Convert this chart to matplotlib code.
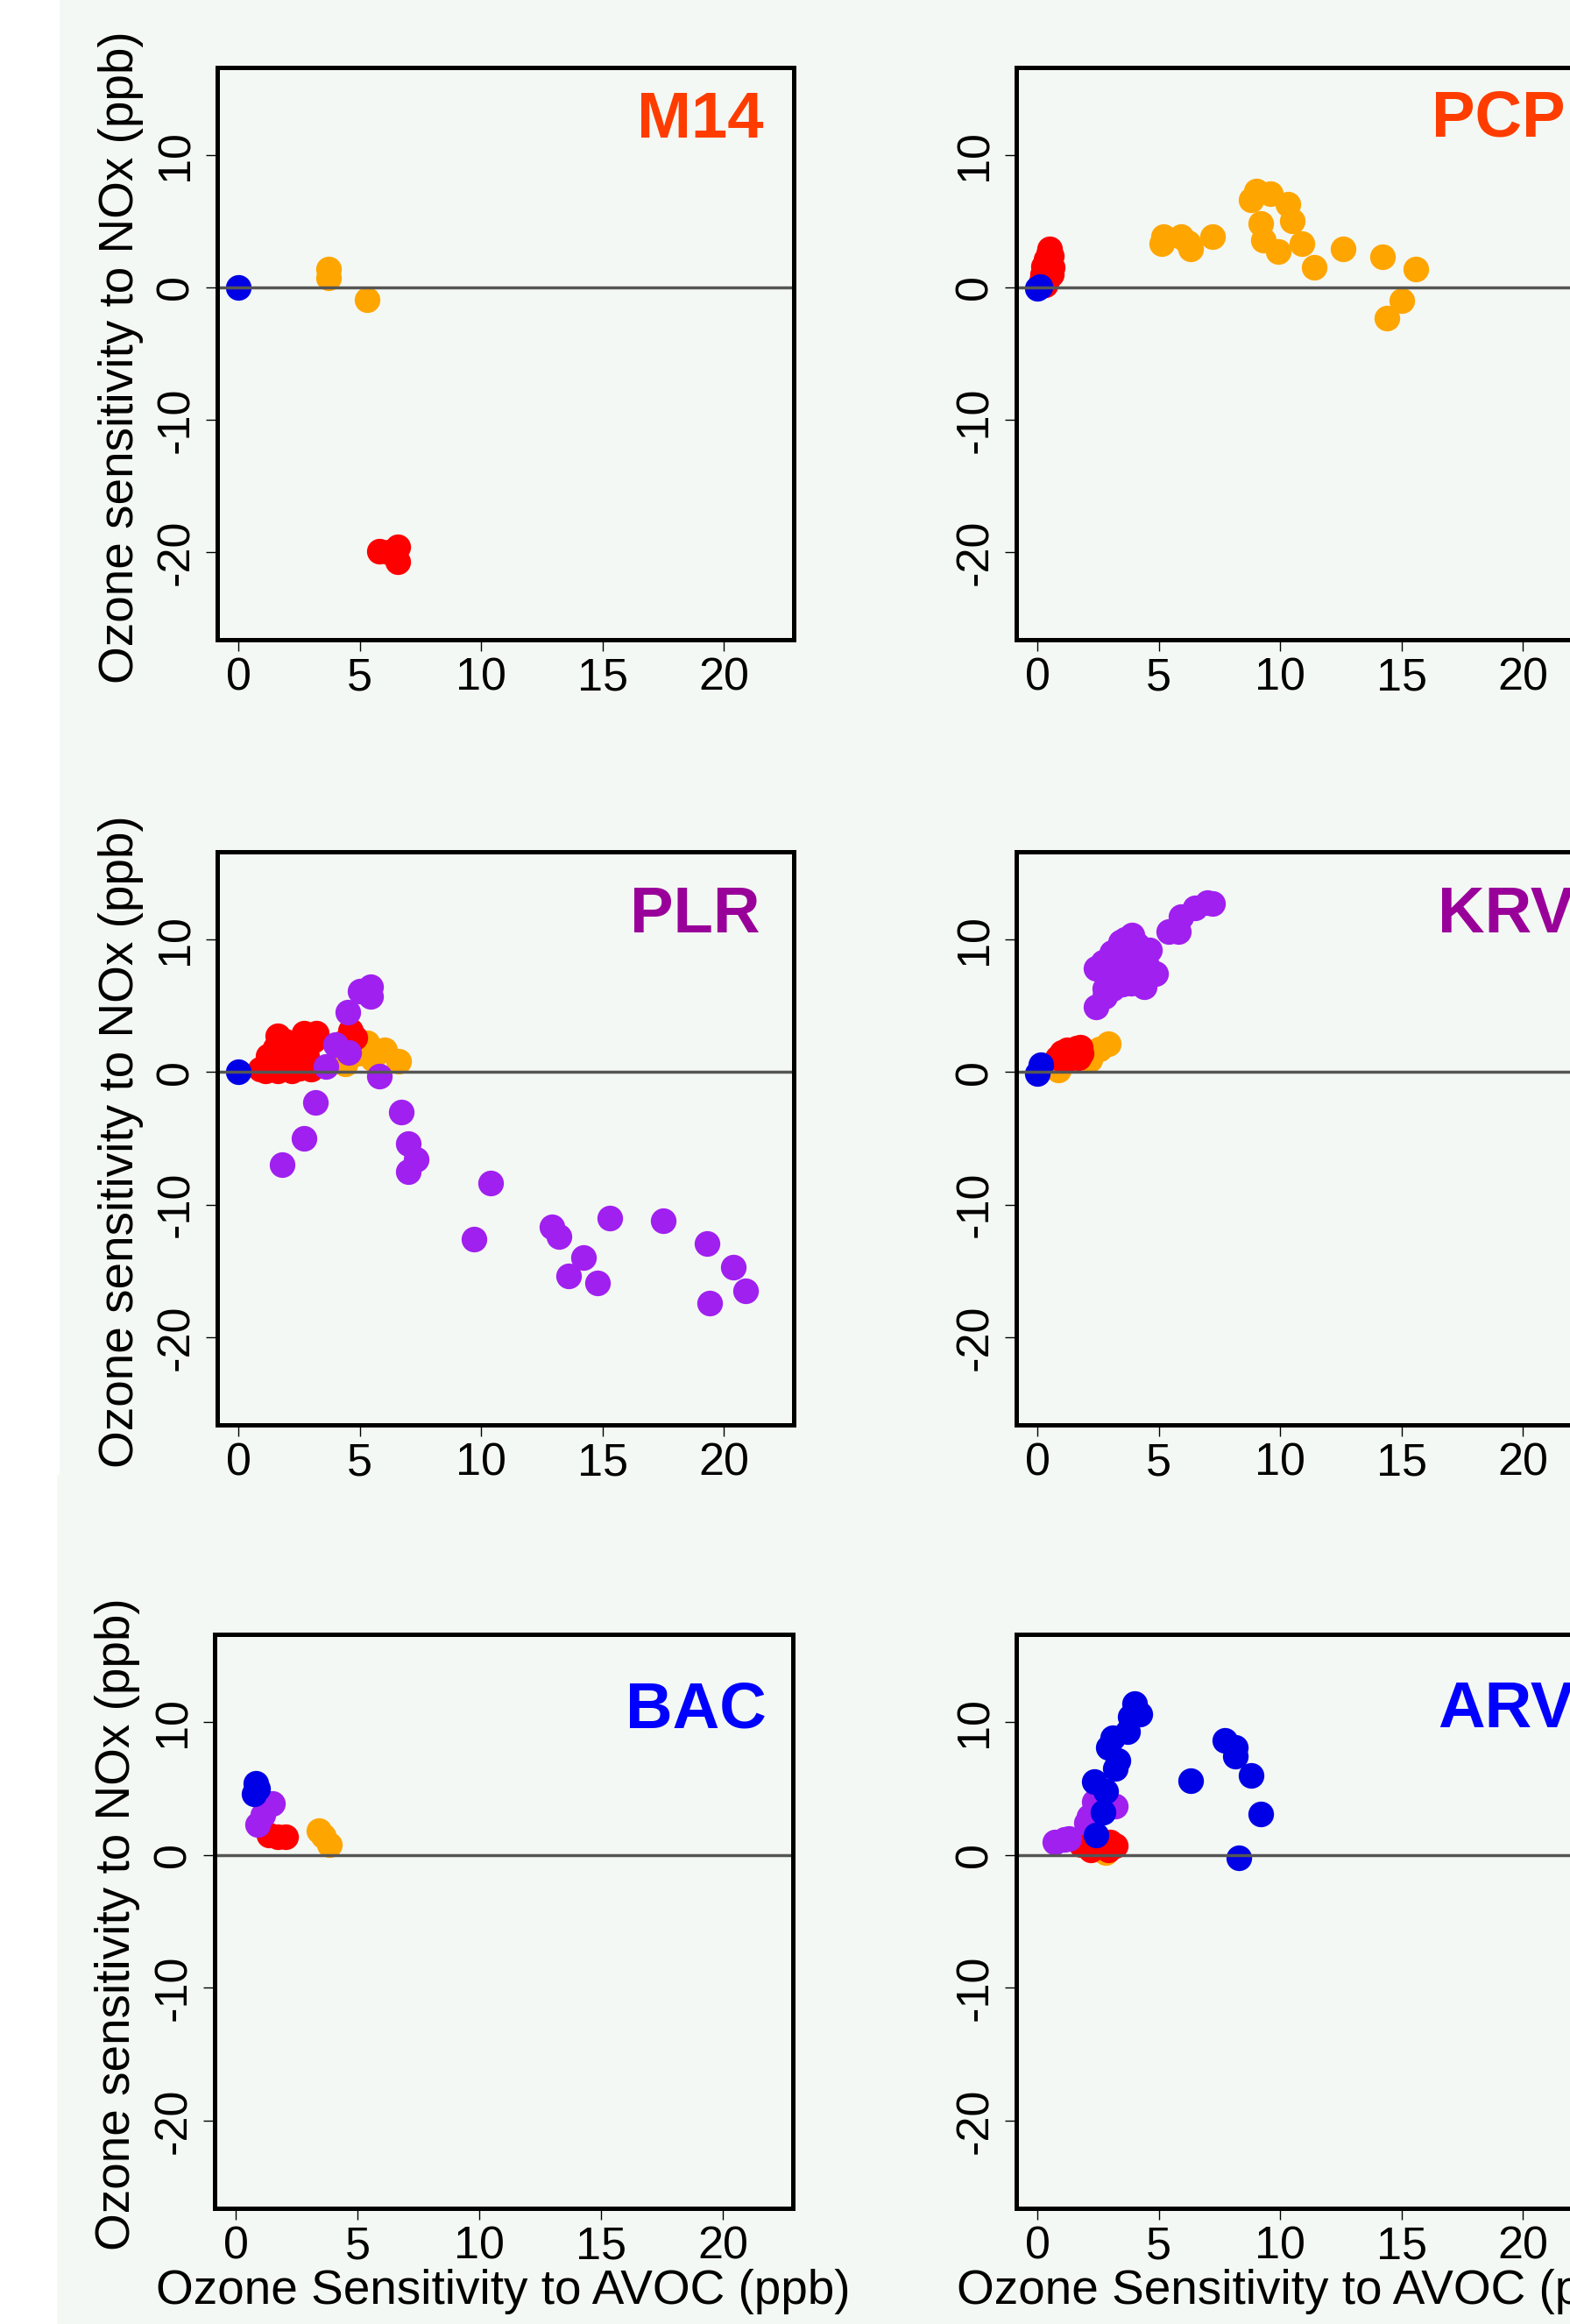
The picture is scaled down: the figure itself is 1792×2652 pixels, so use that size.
import matplotlib
matplotlib.use("Agg")
import matplotlib.pyplot as plt
from matplotlib.patches import Rectangle

plt.rcParams['font.family'] = ['Liberation Sans', 'DejaVu Sans']

# ---------------- data ----------------
panel_names = ["M14", "PCP", "PLR", "KRV", "BAC", "ARV"]
panel_title_colors = ["#ff3c00", "#ff3c00", "#990099", "#990099", "#0000ff", "#0000ff"]

x_ticks = [0, 5, 10, 15, 20]
y_ticks = [-20, -10, 0, 10]

# M14
m14_orange_x = [3.7, 3.7, 5.3]
m14_orange_y = [1.4, 0.7, -0.9]
m14_red_x = [5.8, 6.2, 6.55, 6.55]
m14_red_y = [-19.9, -20.0, -19.6, -20.7]
m14_purple_x = []
m14_purple_y = []
m14_blue_x = [0.0]
m14_blue_y = [0.0]

# PCP
pcp_orange_x = [5.2, 5.1, 5.9, 6.2, 6.3, 7.2, 8.8, 9.0, 9.6, 10.3, 10.5, 9.2, 9.3, 9.9,
                10.9, 11.4, 12.6, 14.2, 15.6, 15.0, 14.4]
pcp_orange_y = [3.8, 3.3, 3.8, 3.4, 2.9, 3.8, 6.6, 7.3, 7.1, 6.3, 5.0, 4.8, 3.6, 2.7,
                3.3, 1.5, 2.9, 2.3, 1.4, -1.0, -2.3]
pcp_red_x = [0.15, 0.2, 0.25, 0.35, 0.45, 0.5, 0.55, 0.6, 0.55, 0.4, 0.3]
pcp_red_y = [0.5, 1.0, 1.6, 2.1, 2.6, 2.9, 2.4, 1.5, 1.0, 0.5, 0.2]
pcp_purple_x = []
pcp_purple_y = []
pcp_blue_x = [0.0, 0.1]
pcp_blue_y = [-0.1, 0.05]

# PLR
plr_orange_x = [4.4, 4.9, 5.3, 6.0, 6.6, 5.5, 2.3]
plr_orange_y = [0.6, 1.4, 2.2, 1.7, 0.8, 1.0, 2.0]
plr_red_x = [0.9, 1.1, 1.3, 1.6, 1.9, 2.2, 2.5, 2.8, 3.0, 1.2, 1.5, 1.6, 2.1, 2.4, 2.7,
             3.1, 1.9, 2.0, 2.4, 2.8, 3.2, 4.3, 4.6, 4.8]
plr_red_y = [0.2, 0.1, 0.8, 0.1, 0.5, 0.1, 0.3, 0.6, 0.2, 1.2, 1.8, 2.7, 1.4, 2.0, 2.9,
             2.4, 2.3, 1.0, 1.6, 1.2, 2.9, 2.2, 3.1, 2.6]
plr_purple_x = [5.0, 5.45, 5.45, 4.5, 4.0, 4.55, 3.6, 5.8, 3.15, 2.7, 1.8, 6.7, 7.0,
                7.3, 7.0, 10.4, 9.7, 12.9, 13.2, 14.2, 13.6, 14.8, 15.3, 17.5, 19.3,
                20.4, 20.9, 19.4]
plr_purple_y = [6.1, 6.4, 5.7, 4.5, 2.1, 1.5, 0.4, -0.3, -2.3, -5.0, -7.0, -3.0, -5.4,
                -6.6, -7.5, -8.4, -12.6, -11.7, -12.4, -14.0, -15.4, -15.9, -11.0,
                -11.2, -12.9, -14.7, -16.5, -17.4]
plr_blue_x = [0.0]
plr_blue_y = [0.0]

# KRV
krv_orange_x = [0.85, 2.15, 2.55, 2.9]
krv_orange_y = [0.15, 0.95, 1.75, 2.15]
krv_red_x = [0.8, 1.0, 1.2, 1.4, 1.6, 1.75, 1.8, 1.7, 1.4, 1.1]
krv_red_y = [1.1, 1.5, 1.7, 1.6, 1.8, 1.9, 1.4, 1.05, 1.1, 1.0]
krv_purple_x = [2.4, 2.75, 2.75, 3.1, 3.5, 3.85, 4.4, 4.3, 4.85, 4.5, 4.6, 4.1, 3.9, 3.6,
                3.4, 3.05, 2.7, 2.4, 3.3, 3.7, 4.0, 3.2, 5.4, 5.8, 5.9, 6.5, 7.0, 7.2]
krv_purple_y = [4.9, 5.7, 6.3, 6.3, 6.6, 6.7, 6.4, 7.0, 7.4, 8.0, 9.2, 9.6, 10.3, 10.0,
                9.8, 9.0, 8.3, 7.8, 7.5, 8.3, 7.5, 8.5, 10.6, 10.6, 11.7, 12.4, 12.8, 12.7]
krv_blue_x = [0.0, 0.12]
krv_blue_y = [-0.1, 0.55]

# BAC
bac_orange_x = [3.4, 3.6, 3.85]
bac_orange_y = [1.8, 1.4, 0.8]
bac_red_x = [1.35, 1.7, 2.05]
bac_red_y = [1.5, 1.35, 1.35]
bac_purple_x = [0.9, 1.1, 1.5]
bac_purple_y = [2.3, 3.0, 3.9]
bac_blue_x = [0.75, 0.8, 0.9]
bac_blue_y = [4.6, 5.4, 5.0]

# ARV
arv_orange_x = [2.8, 2.6]
arv_orange_y = [0.2, 0.5]
arv_red_x = [1.8, 2.1, 2.4, 2.7, 3.0, 3.2, 2.2, 2.9]
arv_red_y = [0.8, 1.0, 0.7, 0.9, 1.0, 0.7, 0.4, 0.4]
arv_purple_x = [0.7, 1.1, 1.3, 2.1, 2.35, 3.2, 2.0]
arv_purple_y = [1.0, 1.15, 1.2, 2.9, 4.0, 3.7, 2.4]
arv_blue_x = [4.0, 4.2, 3.8, 3.7, 3.1, 2.9, 3.3, 3.2, 2.35, 2.8, 2.7, 2.4, 6.3, 7.7,
              8.15, 8.15, 8.8, 9.2, 8.3]
arv_blue_y = [11.4, 10.6, 10.4, 9.3, 8.8, 8.1, 7.1, 6.5, 5.5, 4.8, 3.2, 1.5, 5.6, 8.6,
              8.1, 7.4, 6.0, 3.1, -0.25]

panel_data = {
    "M14": (m14_orange_x, m14_orange_y, m14_red_x, m14_red_y, m14_purple_x, m14_purple_y, m14_blue_x, m14_blue_y),
    "PCP": (pcp_orange_x, pcp_orange_y, pcp_red_x, pcp_red_y, pcp_purple_x, pcp_purple_y, pcp_blue_x, pcp_blue_y),
    "PLR": (plr_orange_x, plr_orange_y, plr_red_x, plr_red_y, plr_purple_x, plr_purple_y, plr_blue_x, plr_blue_y),
    "KRV": (krv_orange_x, krv_orange_y, krv_red_x, krv_red_y, krv_purple_x, krv_purple_y, krv_blue_x, krv_blue_y),
    "BAC": (bac_orange_x, bac_orange_y, bac_red_x, bac_red_y, bac_purple_x, bac_purple_y, bac_blue_x, bac_blue_y),
    "ARV": (arv_orange_x, arv_orange_y, arv_red_x, arv_red_y, arv_purple_x, arv_purple_y, arv_blue_x, arv_blue_y),
}

point_colors = ["#ffa500", "#ff0000", "#a020f0", "#0000e6"]

# ---------------- layout (pixels) ----------------
W, H = 1792, 2652
BG = "#f4f8f4"
fig = plt.figure(figsize=(W / 100, H / 100), dpi=100)
fig.patch.set_facecolor(BG)


def fx(x):
    return x / W


def fy(y):
    return 1 - y / H


# white strip on the left
fig.add_artist(Rectangle((0, fy(1682)), fx(67), 1682 / H, transform=fig.transFigure,
                         color="white", zorder=0))
fig.add_artist(Rectangle((0, 0), fx(64), (H - 1682) / H, transform=fig.transFigure,
                         color="white", zorder=0))

# (left, top, right, bottom) in pixels
boxes = [
    (248, 77, 906, 730), (1160, 77, 1818, 730),
    (248, 972, 906, 1626), (1160, 972, 1818, 1626),
    (245, 1865, 905, 2520), (1160, 1865, 1818, 2520),
]
title_pos = [(727, 157), (1634, 156), (719, 1064), (1641, 1064), (714, 1972), (1641, 1971)]
ylabel_pos = [(138, 408), None, (138, 1303), None, (134, 2196), None]
xlabel_pos = [None, None, None, None, (574, 2629), (1488, 2629)]

TICK_FS = 37.5
LABEL_FS = 39.5
TITLE_FS = 53.5

for i, name in enumerate(panel_names):
    l, t, r, b = boxes[i]
    ax = fig.add_axes([fx(l), fy(b), (r - l) / W, (b - t) / H])
    ax.set_facecolor(BG)
    ax.set_xlim(-0.88, 22.88)
    ax.set_ylim(-26.6, 16.6)
    ox, oy, rx, ry, px, py, bx, by = panel_data[name]
    for (xs, ys), c in zip([(ox, oy), (rx, ry), (px, py), (bx, by)], point_colors):
        if xs:
            ax.scatter(xs, ys, s=445, color=c, linewidths=0, zorder=2)
    ax.axhline(0, color="#555555", lw=2.5, zorder=3)
    for sp in ax.spines.values():
        sp.set_linewidth(3.6)
        sp.set_color("black")
        sp.set_zorder(4)
    ax.set_xticks(x_ticks)
    ax.set_yticks(y_ticks)
    ax.set_xticklabels([str(v) for v in x_ticks])
    ax.set_yticklabels([str(v) for v in y_ticks])
    ax.tick_params(axis="both", direction="out", length=9.4, width=1.0, labelsize=TICK_FS,
                   color="black")
    ax.tick_params(axis="x", pad=5)
    ax.tick_params(axis="y", pad=6.5)
    for lab in ax.get_yticklabels():
        lab.set_rotation(90)
        lab.set_va("center")
        lab.set_ha("right")

    tx, ty = title_pos[i]
    fig.text(fx(tx), fy(ty), name, color=panel_title_colors[i], fontsize=TITLE_FS,
             fontweight="bold", ha="left", va="baseline")
    if ylabel_pos[i] is not None:
        yx, yy = ylabel_pos[i]
        fig.text(fx(yx), fy(yy), "Ozone sensitivity to NOx (ppb)", rotation=90,
                 fontsize=LABEL_FS, ha="center", va="center")
    if xlabel_pos[i] is not None:
        xx, xy = xlabel_pos[i]
        fig.text(fx(xx), fy(xy), "Ozone Sensitivity to AVOC (ppb)",
                 fontsize=LABEL_FS, ha="center", va="baseline")

fig.savefig("out.png", dpi=100, facecolor=BG)
